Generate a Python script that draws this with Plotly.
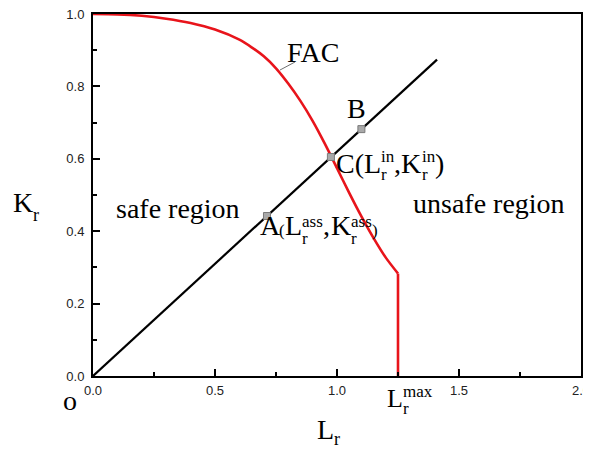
import plotly.graph_objects as go

# ---- data ----
fac_x = [0, 0.1, 0.2, 0.3, 0.4, 0.5, 0.6, 0.65, 0.7, 0.75, 0.8, 0.85, 0.9, 0.95,
         1.0, 1.05, 1.1, 1.15, 1.2, 1.25, 1.25]
fac_y = [1.0, 0.999, 0.995, 0.987, 0.975, 0.957, 0.929, 0.908, 0.883, 0.850, 0.808,
         0.760, 0.705, 0.642, 0.574, 0.506, 0.441, 0.381, 0.327, 0.283, 0.0]
load_x = [0.0, 1.41]
load_y = [0.0, 0.874]
pt_names = ["A", "C", "B"]
pt_x = [0.713, 0.975, 1.10]
pt_y = [0.442, 0.605, 0.682]
x_ticks = [0.0, 0.5, 1.0, 1.5, 2.0]
x_ticklabels = ["0.0", "0.5", "1.0", "1.5", "2.0"]
y_ticks = [0.0, 0.2, 0.4, 0.6, 0.8, 1.0]
y_ticklabels = ["0.0", "0.2", "0.4", "0.6", "0.8", "1.0"]

# page body has an 8px default margin, so the figure is offset by 8px
OFF = 8
PX0, PX1, PY0, PY1 = 93, 581, 14, 376   # plot area in window pixels
W, H = 591 - OFF, 449 - OFF
L, T = PX0 - OFF, PY0 - OFF
R, B = W - (PX1 - OFF), H - (PY1 - OFF)
X0, X1 = 0.0, 2.0
Y0, Y1 = 0.0, 1.0


def pxp(px):
    return (px - PX0) / (PX1 - PX0)


def pyp(py):
    return (PY1 - py) / (PY1 - PY0)


SERIF = "Liberation Serif, Times New Roman, serif"


def piece(text, px_left, py_base, size):
    return dict(x=pxp(px_left), y=pyp(py_base - 0.33 * size), xref="paper", yref="paper",
                xanchor="left", yanchor="middle", text=text, showarrow=False,
                font=dict(family=SERIF, size=size, color="black"), borderpad=0)


RED = "#e8141b"
fig = go.Figure()
# curved part of the failure assessment curve (smoothed) and its vertical cut-off
fig.add_trace(go.Scatter(x=fac_x[:-1], y=fac_y[:-1], mode="lines",
                         line=dict(color=RED, width=2.6, shape="spline", smoothing=0.8),
                         hoverinfo="skip"))
fig.add_trace(go.Scatter(x=fac_x[-2:], y=fac_y[-2:], mode="lines",
                         line=dict(color=RED, width=2.6), hoverinfo="skip"))
fig.add_trace(go.Scatter(x=load_x, y=load_y, mode="lines",
                         line=dict(color="black", width=2.2), hoverinfo="skip"))
fig.add_trace(go.Scatter(x=pt_x, y=pt_y, mode="markers", text=pt_names,
                         marker=dict(symbol="square", size=7, color="#a9a9a9",
                                     line=dict(color="#7a7a7a", width=1))))

BIG, SMALL = 28, 17
ann = []
ann.append(piece("FAC", 286, 62, BIG))
ann.append(piece("B", 346, 118, BIG))
# C label
ann += [piece("C(L", 335, 173, BIG), piece("in", 380, 162, SMALL), piece("r", 380, 180, SMALL),
        piece(",K", 393, 173, BIG), piece("in", 421, 162, SMALL), piece("r", 421, 180, SMALL),
        piece(")", 434, 173, BIG)]
# A label
ann += [piece("A", 259, 235, BIG), piece("(", 278, 236, SMALL), piece("L", 284, 235, BIG),
        piece("ass", 301, 227, SMALL), piece("r", 301, 244, SMALL),
        piece(",", 322, 235, BIG), piece("K", 330, 235, BIG),
        piece("ass", 350, 227, SMALL), piece("r", 350, 244, SMALL),
        piece(")", 371, 236, SMALL)]
ann.append(piece("safe region", 115, 218, BIG))
ann.append(piece("unsafe region", 412, 213, BIG))
# axis titles and extra labels
ann += [piece("K", 12, 212, BIG), piece("r", 32, 221, 18)]
ann += [piece("L", 316, 439, BIG), piece("r", 333, 445, 18)]
ann.append(piece("o", 62, 410, BIG))
ann += [piece("L", 386, 407, 26), piece("max", 402, 397, SMALL), piece("r", 402, 414, SMALL)]

fig.update_layout(
    width=W, height=H,
    margin=dict(l=L, r=R, t=T, b=B, autoexpand=False),
    paper_bgcolor="white", plot_bgcolor="white",
    showlegend=False,
    annotations=ann,
    shapes=[dict(type="line", xref="paper", yref="paper", x0=pxp(280), y0=pyp(70),
                 x1=pxp(295), y1=pyp(62), line=dict(color="#707070", width=1))],
    font=dict(family="Liberation Sans, Arial, sans-serif", size=13, color="#222"),
)
fig.update_xaxes(range=[X0, X1], tickvals=x_ticks, ticktext=x_ticklabels,
                 showgrid=False, zeroline=False, showline=True, linecolor="black",
                 linewidth=2, mirror=True, ticks="inside", ticklen=7, tickwidth=2,
                 tickcolor="black", ticklabelstandoff=1, automargin=False,
                 ticklabeloverflow="allow",
                 minor=dict(ticks="inside", dtick=0.25, tick0=0, ticklen=4,
                            tickwidth=2, tickcolor="black"))
fig.update_yaxes(range=[Y0, Y1], tickvals=y_ticks, ticktext=y_ticklabels,
                 showgrid=False, zeroline=False, showline=True, linecolor="black",
                 linewidth=2, mirror=True, ticks="inside", ticklen=7, tickwidth=2,
                 tickcolor="black", ticklabelstandoff=4, automargin=False,
                 ticklabeloverflow="allow",
                 minor=dict(ticks="inside", dtick=0.1, tick0=0, ticklen=4,
                            tickwidth=2, tickcolor="black"))

fig.write_html("out.html")
